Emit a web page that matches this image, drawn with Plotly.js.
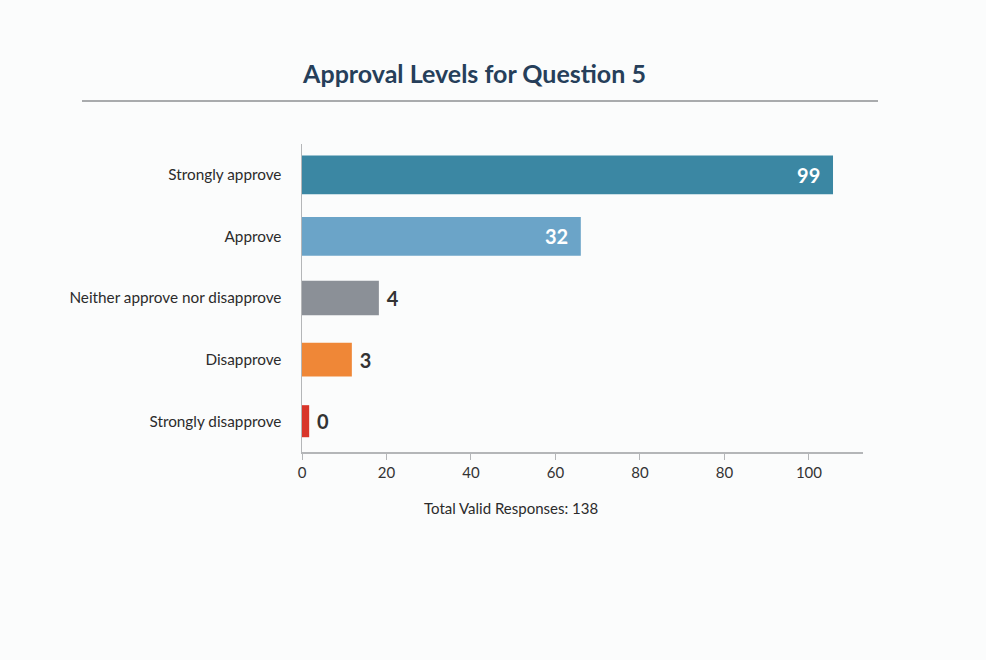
<!DOCTYPE html>
<html>
<head>
<meta charset="utf-8">
<script src="https://cdn.plot.ly/plotly-3.0.1.min.js"></script>
<style>
  html, body { margin: 0; padding: 0; background: #fbfcfc; }
  #chart { width: 986px; height: 660px; }
</style>
</head>
<body>
<div id="chart"></div>
<script>
// ---- data ----
const categories = ["Strongly approve", "Approve", "Neither approve nor disapprove", "Disapprove", "Strongly disapprove"];
const responseLabels = [99, 32, 4, 3, 0];              // numbers printed on the bars
const barLengths = [125.7, 66, 18.2, 11.8, 1.7];       // bar ends read against the drawn axis
const tickValues = [0, 20, 40, 60, 80, 100, 120];
const tickLabels = ["0", "20", "40", "60", "80", "80", "100"];
const titleText = "Approval Levels for Question 5";
const footerText = "Total Valid Responses: 138";

// ---- styles ----
const barColors = ["#3b87a3", "#6ba4c8", "#8b9097", "#ef8737", "#d8352a"];
const barWidths = [0.63, 0.63, 0.56, 0.55, 0.52];
const textPositions = ["inside", "inside", "outside", "outside", "outside"];
const FONT = "Lato, 'Open Sans', sans-serif";
const NB = "\u00a0";

const trace = {
  type: "bar",
  orientation: "h",
  y: categories,
  x: barLengths,
  width: barWidths,
  marker: { color: barColors },
  text: responseLabels.map((v, i) => textPositions[i] === "inside" ? v + NB + NB : NB + v),
  textposition: textPositions,
  insidetextanchor: "end",
  insidetextfont: { family: FONT, size: 20, color: "#ffffff", weight: "bold" },
  outsidetextfont: { family: FONT, size: 20, color: "#333333", weight: "bold" },
  constraintext: "none",
  cliponaxis: false,
  hoverinfo: "skip"
};

const plotLeft = 302, plotRight = 863, plotTop = 144, plotBottom = 452;
const plotW = plotRight - plotLeft, plotH = plotBottom - plotTop;

const layout = {
  width: 986,
  height: 660,
  margin: { l: plotLeft, r: 986 - plotRight, t: plotTop, b: 660 - plotBottom, pad: 0 },
  paper_bgcolor: "#fbfcfc",
  plot_bgcolor: "#fbfcfc",
  showlegend: false,
  font: { family: FONT, color: "#333333" },
  title: {
    text: titleText,
    xref: "container", yref: "container",
    x: 474.5 / 986, y: 1 - 74 / 660,
    xanchor: "center", yanchor: "middle",
    font: { family: FONT, size: 25, color: "#263f5a", weight: "bold" }
  },
  xaxis: {
    range: [0, 132.8],
    tickvals: tickValues,
    ticktext: tickLabels,
    showgrid: false,
    zeroline: false,
    showline: true,
    linecolor: "#b4b6b8",
    linewidth: 1.5,
    ticks: "outside",
    ticklen: 6,
    tickcolor: "#b4b6b8",
    tickfont: { family: FONT, size: 15, color: "#333333" },
    fixedrange: true
  },
  yaxis: {
    categoryorder: "array",
    categoryarray: categories,
    autorange: "reversed",
    showgrid: false,
    zeroline: false,
    showline: true,
    linecolor: "#b4b6b8",
    linewidth: 1.5,
    ticks: "",
    ticklabelstandoff: 16,
    tickfont: { family: FONT, size: 15.3, color: "#2b2b2b" },
    fixedrange: true
  },
  shapes: [{
    type: "line",
    xref: "paper", yref: "paper",
    x0: (82 - plotLeft) / plotW, x1: (878 - plotLeft) / plotW,
    y0: (plotBottom - 101) / plotH, y1: (plotBottom - 101) / plotH,
    line: { color: "#a9abad", width: 2 }
  }],
  annotations: [{
    text: footerText,
    xref: "paper", yref: "paper",
    x: (510.6 - plotLeft) / plotW,
    y: (plotBottom - 508) / plotH,
    xanchor: "center", yanchor: "middle",
    showarrow: false,
    font: { family: FONT, size: 15, color: "#2b2b2b" }
  }]
};

Plotly.newPlot("chart", [trace], layout, { displayModeBar: false, staticPlot: true });
</script>
</body>
</html>
